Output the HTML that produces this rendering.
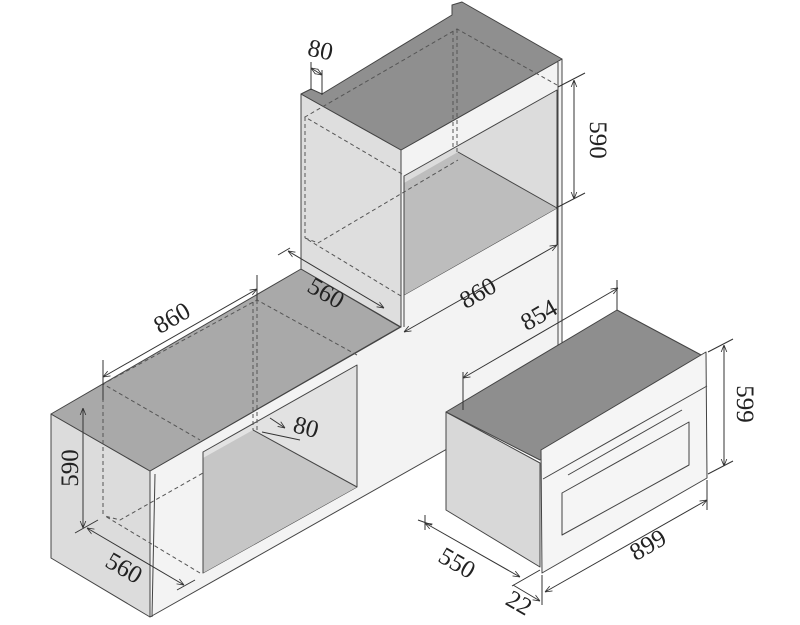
<!DOCTYPE html>
<html><head><meta charset="utf-8"><style>
html,body{margin:0;padding:0;background:#fff;}
svg{display:block;}
.t text{font-family:"Liberation Serif","DejaVu Serif","Times New Roman",serif;font-size:25px;fill:#222;}
</style></head><body>
<svg width="800" height="625" viewBox="0 0 800 625" xmlns="http://www.w3.org/2000/svg">
<defs>
<marker id="a" viewBox="0 0 10 10" refX="10" refY="5" markerWidth="7" markerHeight="7" orient="auto-start-reverse"><path d="M0,1 L10,5 L0,9" fill="none" stroke="#333" stroke-width="1.2"/></marker>
</defs>
<g stroke="#444" stroke-width="1" stroke-linejoin="round">
<polygon points="150,471 401,327 401,150 562,59 562,384 150,617" fill="#f3f3f3"/>
<polygon points="404,176 557,90 557,208 404,295" fill="#dcdcdc"/>
<polygon points="404,183 458,152 557,208 404,295" fill="#bdbdbd" stroke="none"/>
<line x1="458" y1="152" x2="557" y2="208"/>
<line x1="404" y1="176" x2="404" y2="327"/>
<line x1="558" y1="62" x2="558" y2="384"/>
<polygon points="51,414 150,471 150,617 51,558" fill="#dcdcdc"/>
<polygon points="51,414 301,269 400,327 150,471" fill="#a9a9a9"/>
<polygon points="301,94 401,150 401,327 301,269" fill="#dedede"/>
<polygon points="301,94 311,89 322,94 452,15 452,5 462,2 562,59 401,150" fill="#8f8f8f"/>
<polygon points="203,452 357,365 357,487 203,573" fill="#e2e2e2"/>
<polygon points="203,458 253,430 357,487 203,573" fill="#c6c6c6" stroke="none"/>
<line x1="253" y1="430" x2="357" y2="487"/>
<line x1="203" y1="452" x2="203" y2="573"/>
<line x1="155" y1="474" x2="152" y2="617"/>
</g>
<g stroke="#555" stroke-width="1" stroke-dasharray="4,3" fill="none">
<polyline points="402,174 305,117 457,29 557,85"/>
<line x1="305" y1="117" x2="305" y2="238"/>
<line x1="457" y1="29" x2="457" y2="152"/>
<line x1="453" y1="31" x2="453" y2="150"/>
<polyline points="401,296 305,238 318,243 458,160"/>
<polyline points="357,355 257,300 103,384 200,440"/>
<line x1="103" y1="384" x2="103" y2="516"/>
<line x1="257" y1="300" x2="257" y2="430"/>
<line x1="253" y1="302" x2="253" y2="430"/>
<polyline points="200,573 105,516 120,520 203,473"/>
</g>
<g stroke="#444" stroke-width="1" stroke-linejoin="round">
<polygon points="446,412 540,463 540,567 446,510" fill="#d8d8d8"/>
<polygon points="446,412 617,310 703,356 540,460" fill="#8e8e8e"/>
<polygon points="541,450 706,352 707,478 542,573" fill="#f5f5f5"/>
<line x1="543" y1="479" x2="707" y2="386"/>
<line x1="568" y1="475" x2="682" y2="410"/>
<polygon points="562,493 689,422 689,465 562,535" fill="none"/>
</g>
<g stroke="#333" stroke-width="1" fill="none">
<line x1="311" y1="62" x2="311" y2="90"/><line x1="322" y1="70" x2="322" y2="95"/>
<line x1="311" y1="68" x2="322" y2="75" marker-end="url(#a)" marker-start="url(#a)"/>
<line x1="558" y1="87" x2="585" y2="73"/><line x1="558" y1="207" x2="585" y2="193"/>
<line x1="574" y1="80" x2="574" y2="199" marker-end="url(#a)" marker-start="url(#a)"/>
<line x1="557" y1="205" x2="557" y2="245"/>
<line x1="404" y1="332" x2="557" y2="245" marker-end="url(#a)" marker-start="url(#a)"/>
<line x1="278" y1="255" x2="290" y2="248"/>
<line x1="288" y1="251" x2="384" y2="308" marker-end="url(#a)" marker-start="url(#a)"/>
<line x1="103" y1="360" x2="103" y2="400"/><line x1="257" y1="275" x2="257" y2="300"/>
<line x1="103" y1="377" x2="257" y2="289" marker-end="url(#a)" marker-start="url(#a)"/>
<line x1="83" y1="408" x2="83" y2="528" marker-end="url(#a)" marker-start="url(#a)"/>
<line x1="75" y1="533" x2="98" y2="520"/>
<line x1="87" y1="528" x2="184" y2="585" marker-end="url(#a)" marker-start="url(#a)"/>
<line x1="177" y1="590" x2="195" y2="580"/>
<line x1="262" y1="432" x2="300" y2="440"/>
<line x1="270" y1="418" x2="285" y2="428" marker-end="url(#a)"/>
<line x1="463" y1="372" x2="463" y2="410"/><line x1="617" y1="280" x2="617" y2="310"/>
<line x1="463" y1="378" x2="618" y2="288" marker-end="url(#a)" marker-start="url(#a)"/>
<line x1="708" y1="352" x2="733" y2="339"/><line x1="708" y1="474" x2="733" y2="461"/>
<line x1="724" y1="345" x2="724" y2="466" marker-end="url(#a)" marker-start="url(#a)"/>
<line x1="707" y1="480" x2="707" y2="510"/><line x1="542" y1="575" x2="542" y2="605"/>
<line x1="545" y1="592" x2="707" y2="500" marker-end="url(#a)" marker-start="url(#a)"/>
<line x1="425" y1="515" x2="425" y2="530"/><line x1="418" y1="520" x2="432" y2="525"/>
<line x1="425" y1="523" x2="520" y2="577" marker-end="url(#a)" marker-start="url(#a)"/>
<line x1="512" y1="586" x2="540" y2="570"/>
<line x1="513" y1="585" x2="540" y2="601" marker-end="url(#a)"/>
</g>
<g class="t">
<text x="320" y="58" transform="rotate(12 320 52)" text-anchor="middle">80</text>
<text x="590" y="140" transform="rotate(90 590 140)" text-anchor="middle">590</text>
<text x="482" y="300" transform="rotate(-30 482 300)" text-anchor="middle">860</text>
<text x="322" y="300" transform="rotate(30 322 300)" text-anchor="middle">560</text>
<text x="176" y="325" transform="rotate(-30 176 325)" text-anchor="middle">860</text>
<text x="78" y="468" transform="rotate(-90 78 468)" text-anchor="middle">590</text>
<text x="120" y="575" transform="rotate(30 120 575)" text-anchor="middle">560</text>
<text x="304" y="435" transform="rotate(15 304 435)" text-anchor="middle">80</text>
<text x="543" y="322" transform="rotate(-30 543 322)" text-anchor="middle">854</text>
<text x="737" y="404" transform="rotate(90 737 404)" text-anchor="middle">599</text>
<text x="652" y="552" transform="rotate(-30 652 552)" text-anchor="middle">899</text>
<text x="453" y="570" transform="rotate(30 453 570)" text-anchor="middle">550</text>
<text x="515" y="610" transform="rotate(30 515 610)" text-anchor="middle">22</text>
</g>
</svg>
</body></html>
